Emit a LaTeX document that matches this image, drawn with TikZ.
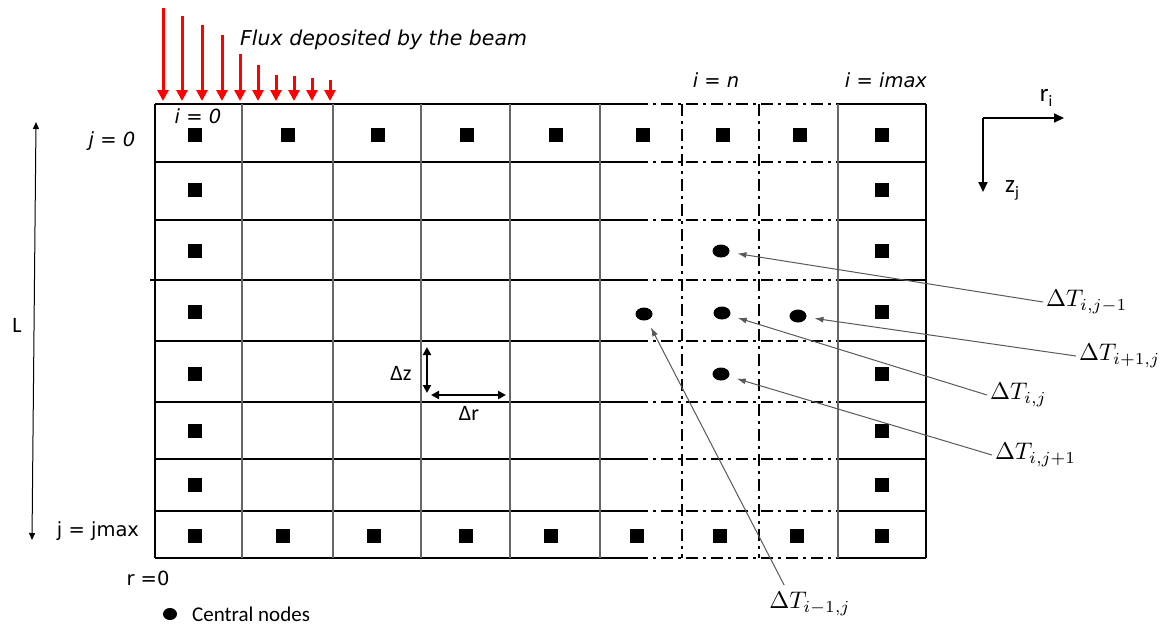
\documentclass[tikz,border=0pt]{standalone}
\usepackage{fontspec}
\usepackage{graphicx}
\newfontfamily\dvs{DejaVu Sans}
\newfontfamily\carl{Carlito}
\usetikzlibrary{arrows.meta,shapes.geometric}
\newcommand{\dT}[1]{\scalebox{2.4}{$\Delta T_{#1}$}}
\begin{document}
\begin{tikzpicture}[x=1pt,y=-1pt,
  hline/.style={line width=2pt,black},
  vline/.style={line width=1.1pt,black!60},
  thickv/.style={line width=2pt,black},
  dd/.style={dash pattern=on 12pt off 5pt on 3pt off 5pt},
  sq/.style={rectangle,fill=black,minimum size=14pt,inner sep=0pt,draw=none},
  cn/.style={ellipse,fill=black,minimum width=17pt,minimum height=13pt,inner sep=0pt,draw=none},
  lab/.style={font=\dvs\fontsize{19.5}{23}\selectfont,inner sep=0pt},
  ilab/.style={font=\dvs\itshape\fontsize{19.5}{23}\selectfont,inner sep=0pt},
  clab/.style={font=\carl\fontsize{22}{26}\selectfont,inner sep=0pt},
  dlab/.style={inner sep=3pt},
  flux/.style={red,line width=3pt,-{Triangle[width=11pt,length=11pt]}},
  call/.style={draw=black!65,line width=1pt,-{Latex[length=9pt,width=6pt]},shorten >=8pt},
  dbl/.style={line width=2.4pt,{Triangle[width=8pt,length=8pt]}-{Triangle[width=8pt,length=8pt]}},
  axisar/.style={line width=2pt,-{Triangle[width=9pt,length=10pt]}},
  thinar/.style={line width=1pt,{Triangle[width=6pt,length=7pt]}-{Triangle[width=6pt,length=7pt]}}
]
\useasboundingbox (0,0) rectangle (1163,625);

% ---- grid horizontals
\foreach \y in {104,162,220,280,341,402,459,511,558}{
  \draw[hline] (155,\y) -- (636,\y);
  \draw[hline,dd] (636,\y) -- (838,\y);
  \draw[hline] (838,\y) -- (926,\y);
}
\draw[hline] (150,280) -- (155,280);
% ---- grid verticals
\foreach \x in {242,333,421,510,600,838}{
  \draw[vline] (\x,104) -- (\x,558);
}
\draw[thickv] (155,104) -- (155,558);
\draw[thickv] (926,104) -- (926,558);
\foreach \x in {682,759}{
  \draw[line width=2pt,dd] (\x,104) -- (\x,558);
}

% ---- boundary nodes (squares)
\foreach \y [count=\k] in {135,190,251,312,374,431,485,536}{
  \node[sq] (L\k) at (195,\y) {};
  \node[sq] (R\k) at (882,\y) {};
}
\foreach \x [count=\k] in {288,378,467,556,643,723,800}{
  \node[sq] (T\k) at (\x,135) {};
}
\foreach \x [count=\k] in {283,374,466,551,637,720,797}{
  \node[sq] (B\k) at (\x,536) {};
}

% ---- central nodes
\node[cn] (c1) at (721,251) {};
\node[cn] (c2) at (644,314) {};
\node[cn] (c3) at (722,313) {};
\node[cn] (c4) at (798,316) {};
\node[cn] (c5) at (721,374) {};

% ---- flux arrows
\foreach \x/\t [count=\k] in {163/8,182/16,202/25,222/35,240/54,258/65,276/75,294/76,312/78,330/80}{
  \coordinate (fa\k) at (\x,\t);
  \coordinate (fb\k) at (\x,101);
  \draw[flux] (fa\k) -- (fb\k);
}
\node[ilab,anchor=west,font=\dvs\itshape\fontsize{20.5}{24}\selectfont] (flx) at (240,40) {Flux deposited by the beam};

% ---- labels
\node[ilab] (i0) at (198,116) {i = 0};
\node[ilab] (j0) at (112,141) {j = 0};
\node[lab] (jm) at (98,531) {j = jmax};
\node[lab] (r0) at (148,578) {r =0};
\node[ilab] (in) at (716,80) {i = n};
\node[ilab] (im) at (886,80) {i = imax};
\node[clab] (Lb) at (17,325) {L};

% ---- L arrow
\coordinate (Lt) at (36,122);
\coordinate (Lbot) at (32,540);
\draw[thinar] (Lt) -- (Lbot);

% ---- delta z / delta r
\coordinate (dzt) at (427,347);
\coordinate (dzb) at (427,393);
\coordinate (drl) at (431,395);
\coordinate (drr) at (506,395);
\draw[dbl] (dzt) -- (dzb);
\draw[dbl] (drl) -- (drr);
\node[clab] (dz) at (401,373) {Δz};
\node[clab] (dr) at (469,413) {Δr};

% ---- axes
\coordinate (ax) at (983,118);
\coordinate (axr) at (1064,118);
\coordinate (axz) at (983,192);
\draw[axisar] (ax) -- (axr);
\draw[axisar] (ax) -- (axz);
\node[font=\carl\fontsize{25}{29}\selectfont,inner sep=0pt] (ri) at (1046,98) {r\raisebox{-5pt}{\fontsize{16}{16}\selectfont i}};
\node[font=\carl\fontsize{25}{29}\selectfont,inner sep=0pt] (zj) at (1012,190) {z\raisebox{-5pt}{\fontsize{16}{16}\selectfont j}};

% ---- Delta T labels and callouts
\node[dlab,anchor=west] (t1) at (1043,302) {\dT{i,j-1}};
\node[dlab,anchor=west] (t2) at (1076,356) {\dT{i+1,j}};
\node[dlab,anchor=west] (t3) at (987,395) {\dT{i,j}};
\node[dlab,anchor=west] (t4) at (992,455) {\dT{i,j+1}};
\node[dlab] (t5) at (810,604) {\dT{i-1,j}};
\draw[call] (t1.west) -- (c1);
\draw[call] (t2.west) -- (c4);
\draw[call] (t3.west) -- (c3);
\draw[call] (t4.west) -- (c5);
\draw[call] ([xshift=18pt,yshift=4pt]t5.north west) -- (c2);

% ---- legend
\node[cn,minimum width=14pt,minimum height=12pt] (leg) at (170,614) {};
\node[clab,anchor=base west,font=\carl\fontsize{21}{24}\selectfont] (legt) at (192,621) {Central nodes};
\end{tikzpicture}
\end{document}
